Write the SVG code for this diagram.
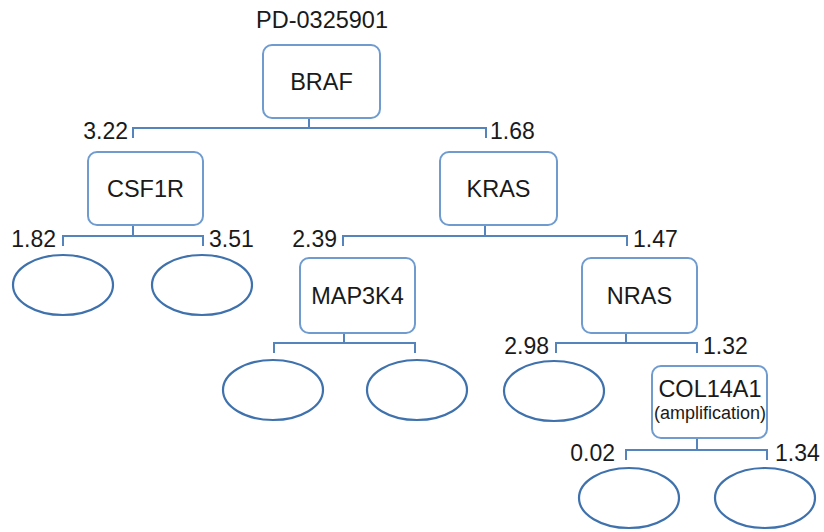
<svg xmlns="http://www.w3.org/2000/svg" width="824" height="532" viewBox="0 0 824 532">
<style>
.box{fill:#fff;stroke:#6f9bcf;stroke-width:2}
.leaf{fill:#fff;stroke:#3f72ad;stroke-width:2.2}
.ln{fill:none;stroke:#5584bd;stroke-width:2}
.faint{fill:none;stroke:#dfe7f1;stroke-width:2}
text{font-family:"Liberation Sans",Arial,sans-serif;fill:#1a1a1a}
.nt{font-size:23.5px;text-anchor:middle}
.lb{font-size:23px}
.r{text-anchor:end}
.sm{font-size:18px;text-anchor:middle}
</style>
<rect width="824" height="532" fill="#fff"/>
<text class="nt" x="322" y="28">PD-0325901</text>
<g id="connectors">
<path class="faint" d="M309 105V118M133 212V225M485 212V225M344 320V333M626 320V333M697 425V438"/>
<path class="ln" d="M309 118V128M133 138V128H486V138"/>
<path class="ln" d="M133 225V236M63 246V236H203V246"/>
<path class="ln" d="M485 225V236M343 246V236H627V246"/>
<path class="ln" d="M344 333V343M274 353V343H415V353"/>
<path class="ln" d="M626 333V343M556 353V343H697V353"/>
<path class="ln" d="M697 438V450M626 460V450H767V460"/>
</g>
<g id="labels">
<text class="lb r" x="128" y="139">3.22</text>
<text class="lb" x="490" y="139">1.68</text>
<text class="lb r" x="56" y="247">1.82</text>
<text class="lb" x="209" y="247">3.51</text>
<text class="lb r" x="337" y="247">2.39</text>
<text class="lb" x="633" y="247">1.47</text>
<text class="lb r" x="549" y="354">2.98</text>
<text class="lb" x="703" y="354">1.32</text>
<text class="lb r" x="615" y="461">0.02</text>
<text class="lb" x="775" y="461">1.34</text>
</g>
<g id="BRAF"><rect class="box" x="263" y="45" width="117" height="73" rx="9"/><text class="nt" x="321.5" y="90">BRAF</text></g>
<g id="CSF1R"><rect class="box" x="88" y="152" width="115" height="73" rx="9"/><text class="nt" x="145.5" y="197">CSF1R</text></g>
<g id="KRAS"><rect class="box" x="440" y="152" width="117" height="73" rx="9"/><text class="nt" x="498.5" y="197">KRAS</text></g>
<g id="MAP3K4"><rect class="box" x="300" y="258" width="115" height="75" rx="9"/><text class="nt" x="357.5" y="304">MAP3K4</text></g>
<g id="NRAS"><rect class="box" x="582" y="258" width="115" height="75" rx="9"/><text class="nt" x="639.5" y="304">NRAS</text></g>
<g id="COL14A1"><rect class="box" x="652" y="366" width="115" height="72" rx="9"/><text class="nt" x="710" y="397">COL14A1</text><text class="sm" x="710" y="419">(amplification)</text></g>
<g id="leaf1"><ellipse class="leaf" cx="63" cy="285" rx="50" ry="30"/></g>
<g id="leaf2"><ellipse class="leaf" cx="202" cy="285" rx="50" ry="30"/></g>
<g id="leaf3"><ellipse class="leaf" cx="273" cy="390" rx="50" ry="30"/></g>
<g id="leaf4"><ellipse class="leaf" cx="417" cy="390" rx="50" ry="30"/></g>
<g id="leaf5"><ellipse class="leaf" cx="554" cy="391" rx="50" ry="30"/></g>
<g id="leaf6"><ellipse class="leaf" cx="629" cy="498" rx="50" ry="30"/></g>
<g id="leaf7"><ellipse class="leaf" cx="765" cy="498" rx="50" ry="30"/></g>
</svg>
